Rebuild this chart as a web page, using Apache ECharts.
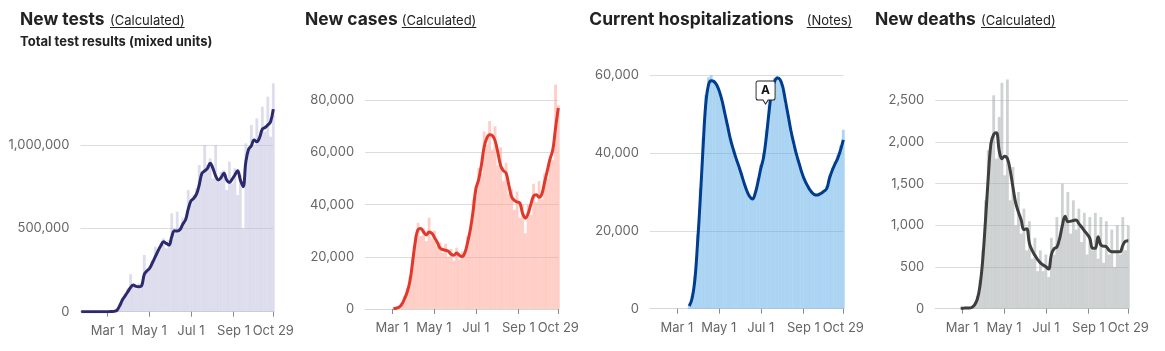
<!DOCTYPE html>
<html>
<head>
<meta charset="utf-8">
<script src="https://cdn.jsdelivr.net/npm/echarts@6/dist/echarts.min.js"></script>
<style>
  html, body { margin: 0; padding: 0; background: #fff; }
  #chart { width: 1165px; height: 351px; }
</style>
</head>
<body>
<div id="chart"></div>
<script>
// 2020 daily figures, every 4 days, Jan 23 .. Oct 29
const firstDay = [2020, 0, 23]
const stepDays = 4

const testsBars = [
  0, 0, 0, 0, 0, 0, 0, 0, 0, 0, 0,
  2000, 5000, 20000, 50000, 85000, 105000, 140000, 225000, 165000, 140000,
  170000, 160000, 340000, 250000, 275000, 310000, 390000, 370000, 410000, 440000,
  380000, 430000, 590000, 470000, 600000, 500000, 560000, 530000, 730000, 650000,
  700000, 740000, 880000, 840000, 1000000, 880000, 920000, 800000, 1000000, 780000,
  840000, 850000, 730000, 900000, 770000, 860000, 700000, 820000, 500000, 1010000,
  960000, 1120000, 1000000, 1160000, 1040000, 1230000, 1080000, 1290000, 1050000, 1370000
]
const testsAvg = [
  0, 0, 0, 0, 0, 0, 0, 0, 0, 0, 0,
  1000, 2000, 8000, 35000, 70000, 95000, 120000, 145000, 160000, 152000,
  150000, 155000, 225000, 245000, 262000, 295000, 330000, 365000, 395000, 420000,
  410000, 400000, 450000, 485000, 484000, 492000, 525000, 550000, 615000, 665000,
  680000, 705000, 760000, 830000, 845000, 860000, 890000, 860000, 815000, 790000,
  805000, 830000, 790000, 775000, 795000, 820000, 845000, 790000, 750000, 900000,
  975000, 995000, 1030000, 1020000, 1045000, 1095000, 1105000, 1120000, 1140000, 1215000
]

const casesBars = [
  null, null, null, null, null, null, null, null, null, null,
  200, 500, 1000, 2500, 5000, 8000, 12500, 20000, 28000, 33000,
  28000, 31000, 26000, 35000, 27000, 30000, 24000, 25500, 21500, 25000,
  20000, 23000, 18500, 23500, 19000, 22000, 20500, 28000, 31000, 42000,
  47000, 54000, 52000, 68000, 63000, 72000, 61000, 70000, 55000, 62000,
  49000, 56000, 44000, 46000, 38000, 45000, 35000, 40000, 29000, 40000,
  36000, 48000, 41000, 49000, 42000, 52000, 50000, 58000, 57000, 86000,
  78000
]
const casesAvg = [
  null, null, null, null, null, null, null, null, null, null,
  100, 300, 700, 1700, 3800, 6400, 10500, 18000, 26000, 30500,
  30800, 29500, 28400, 29500, 29000, 27300, 25500, 23300, 22800, 22500,
  22100, 21000, 20600, 21500, 20600, 20100, 21500, 25500, 30500, 37400,
  46000, 49500, 55000, 62000, 65500, 66800, 66500, 64500, 60000, 55000,
  53000, 52100, 47500, 43000, 41600, 41000, 40600, 36700, 34800, 36500,
  40000, 43300, 43800, 42800, 44000, 48500, 53000, 57500, 61000, 69400,
  77000
]

const hospBars = [
  null, null, null, null, null, null, null, null, null, null, null, null, null, null,
  900, 3200, 8500, 19000, 31000, 44000, 55000, 59500, 60000, 58800,
  57200, 55500, 52800, 49500, 46400, 43200, 40600, 38300, 36300, 34200,
  31800, 29900, 28600, 28300, 30200, 33500, 37000, 40000, 46000, 52500,
  57500, 59300, 59800, 58600, 56200, 52500, 48600, 44800, 41800, 39000,
  36600, 34300, 32600, 31200, 30100, 29400, 29100, 29400, 29900, 30500,
  31500, 34300, 36200, 37900, 39600, 42000, 46000
]
const hospAvg = [
  null, null, null, null, null, null, null, null, null, null, null, null, null, null,
  700, 2500, 7000, 16500, 28000, 41000, 52500, 57500, 58600, 58400,
  57500, 55800, 53300, 50000, 46800, 43500, 41000, 38700, 36700, 34500,
  32200, 30200, 28800, 28200, 29700, 32600, 36000, 38800, 44000, 50500,
  56200, 58400, 59300, 58900, 57000, 53300, 49500, 45600, 42500, 39600,
  37200, 34800, 33000, 31600, 30400, 29600, 29200, 29300, 29700, 30200,
  30900, 33600, 35600, 37200, 38700, 40800, 43400
]

const deathsBars = [
  null, null, null, null, null, null, null, null, null,
  5, 10, 10, 12, 25, 60, 150, 350, 700, 1300,
  1900, 2000, 2560, 1800, 2300, 2710, 1600, 2750, 1300, 1700,
  1000, 1400, 900, 1200, 700, 1050, 600, 850, 450, 700,
  450, 650, 380, 850, 650, 1100, 800, 1500, 1050, 1400,
  900, 1300, 950, 1200, 800, 1150, 650, 1100, 700, 1150,
  600, 1100, 550, 1050, 650, 950, 500, 1000, 650, 1100,
  700, 1000
]
const deathsAvg = [
  null, null, null, null, null, null, null, null, null,
  5, 6, 8, 8, 15, 44, 110, 270, 580, 1050,
  1560, 1980, 2090, 2110, 1900, 1800, 1830, 1800, 1660, 1460,
  1270, 1160, 1064, 950, 960, 784, 700, 640, 590, 550,
  525, 504, 475, 650, 720, 740, 840, 1000, 1110, 1044,
  1050, 1058, 1064, 1020, 980, 935, 895, 844, 724, 724,
  864, 764, 750, 744, 700, 684, 684, 684, 684, 760,
  810, 816
]

const tickDates = [[2020, 2, 1], [2020, 4, 1], [2020, 6, 1], [2020, 8, 1], [2020, 9, 29]]
const tickLabels = ['Mar 1', 'May 1', 'Jul 1', 'Sep 1', 'Oct 29']

// note "A" on hospitalizations
const noteDate = [2020, 6, 8]
const noteValue = 52600

// x axis runs in days since Jan 22, 2020
const axisStart = [2020, 0, 22]
const axisEnd = [2020, 9, 29]
const dayOf = (d) => Math.round((Date.UTC(d[0], d[1], d[2]) - Date.UTC(axisStart[0], axisStart[1], axisStart[2])) / 86400000)
const firstX = dayOf(firstDay)
const days = testsAvg.map((_, i) => firstX + i * stepDays)
const tickDays = tickDates.map(dayOf)

const font = 'Inter, "Noto Sans", sans-serif'

const panels = [
  {
    title: 'New tests', note: '(Calculated)', sub: 'Total test results (mixed units)', titleX: 20, noteX: 110,
    grid: { left: 80.5, top: 78.3, width: 192.8, height: 233.4 }, max: 1400000, interval: 500000,
    barColor: 'rgba(187,187,219,0.5)', lineColor: '#2c2a6e', bars: testsBars, avg: testsAvg
  },
  {
    title: 'New cases', note: '(Calculated)', titleX: 305, noteX: 401.7,
    grid: { left: 365.2, top: 74.1, width: 193.1, height: 234.9 }, max: 90000, interval: 20000,
    barColor: 'rgba(255,157,141,0.5)', lineColor: '#e0392b', bars: casesBars, avg: casesAvg
  },
  {
    title: 'Current hospitalizations', note: '(Notes)', titleX: 589.3, noteX: 806.7,
    grid: { left: 650, top: 67.5, width: 193.3, height: 241.2 }, max: 62000, interval: 20000,
    barColor: 'rgba(87,169,231,0.5)', lineColor: '#003d8f', bars: hospBars, avg: hospAvg
  },
  {
    title: 'New deaths', note: '(Calculated)', titleX: 875, noteX: 981,
    grid: { left: 935.3, top: 75.3, width: 193, height: 233.4 }, max: 2800, interval: 500,
    barColor: 'rgba(160,165,165,0.5)', lineColor: '#3e3e3e', bars: deathsBars, avg: deathsAvg
  }
]

const measure = document.createElement('canvas').getContext('2d')
measure.font = '13px ' + font

const graphic = []
panels.forEach((p) => {
  graphic.push({
    type: 'text', x: p.titleX, y: 20,
    style: { text: p.title, font: 'bold 17.4px ' + font, fill: '#222', verticalAlign: 'middle' }
  })
  graphic.push({
    type: 'text', x: p.noteX, y: 21.3,
    style: { text: p.note, font: '13px ' + font, fill: '#222', verticalAlign: 'middle' }
  })
  graphic.push({
    type: 'line',
    shape: { x1: p.noteX, y1: 27.5, x2: p.noteX + measure.measureText(p.note).width, y2: 27.5 },
    style: { stroke: '#222', lineWidth: 1 }
  })
  if (p.sub) {
    graphic.push({
      type: 'text', x: p.titleX, y: 42.4,
      style: { text: p.sub, font: 'bold 13px ' + font, fill: '#222', verticalAlign: 'middle' }
    })
  }
})

const series = []
panels.forEach((p, i) => {
  series.push({
    type: 'bar',
    xAxisIndex: i,
    yAxisIndex: i,
    barWidth: 2.8,
    silent: true,
    itemStyle: { color: p.barColor },
    data: p.bars.map((v, j) => [days[j], v === null ? '-' : v])
  })
  const line = {
    type: 'line',
    xAxisIndex: i,
    yAxisIndex: i,
    symbol: 'none',
    smooth: 0.4,
    z: 3,
    lineStyle: { color: p.lineColor, width: 3 },
    data: p.avg.map((v, j) => [days[j], v === null ? '-' : v])
  }
  if (i === 2) {
    line.markPoint = {
      symbol: 'path://M2,0 L17,0 Q19,0 19,2 L19,17 Q19,19 17,19 L12,19 L9.5,23 L7,19 L2,19 Q0,19 0,17 L0,2 Q0,0 2,0 Z',
      symbolSize: [19, 23],
      symbolOffset: [0, '-50%'],
      itemStyle: { color: '#fff', borderColor: '#222', borderWidth: 1 },
      label: { show: true, formatter: 'A', fontWeight: 'bold', fontSize: 12, fontFamily: font, color: '#111', offset: [0, -2] },
      data: [{ coord: [dayOf(noteDate), noteValue] }]
    }
  }
  series.push(line)
})

const chart = echarts.init(document.getElementById('chart'))
chart.setOption({
  animation: false,
  graphic: graphic,
  grid: panels.map((p) => p.grid),
  xAxis: panels.map((p, i) => ({
    type: 'value',
    gridIndex: i,
    min: 0,
    max: dayOf(axisEnd),
    axisLine: { lineStyle: { color: '#d6d6d6' } },
    axisTick: { show: true, length: 5, lineStyle: { color: '#8a8a8a' }, customValues: tickDays },
    axisLabel: {
      customValues: tickDays,
      formatter: (v) => tickLabels[tickDays.indexOf(Math.round(v))],
      color: '#666',
      fontSize: 13,
      fontFamily: font,
      margin: 13,
      hideOverlap: false
    },
    splitLine: { show: false }
  })),
  yAxis: panels.map((p, i) => ({
    type: 'value',
    gridIndex: i,
    min: 0,
    max: p.max,
    interval: p.interval,
    axisLine: { show: false },
    axisTick: { show: false },
    axisLabel: { color: '#666', fontSize: 13, fontFamily: font, margin: 11, showMaxLabel: false },
    splitLine: { lineStyle: { color: '#dcdcdc' }, showMaxLine: false }
  })),
  series: series
})
</script>
</body>
</html>
